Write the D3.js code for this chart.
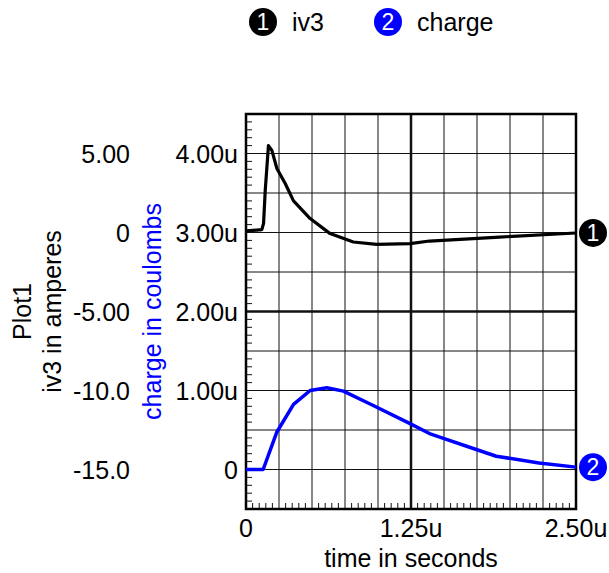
<!DOCTYPE html>
<html>
<head>
<meta charset="utf-8">
<script src="https://cdn.jsdelivr.net/npm/d3@7"></script>
<style>
  body { margin: 0; background: #fff; }
  svg { font-family: "Liberation Sans", Arial, sans-serif; }
</style>
</head>
<body>
<svg id="chart"></svg>
<script>
// time in microseconds
const timeIv3 = [0, 0.12, 0.133, 0.146, 0.17, 0.196, 0.234, 0.297, 0.36, 0.486, 0.637, 0.813, 0.99, 1.243, 1.39, 1.92, 2.5];
const iv3 = [0.1, 0.18, 0.58, 2.7, 5.5, 5.2, 4.05, 3.1, 2.0, 0.88, -0.07, -0.6, -0.75, -0.7, -0.54, -0.29, -0.03];

// charge in microcoulombs
const timeCharge = [0, 0.13, 0.234, 0.36, 0.486, 0.612, 0.738, 0.964, 1.243, 1.39, 1.468, 1.75, 1.896, 2.22, 2.5];
const charge = [0, 0, 0.475, 0.824, 1.0, 1.034, 0.992, 0.81, 0.58, 0.455, 0.41, 0.25, 0.168, 0.083, 0.03];

const xTicks = [0, 1.25, 2.5];
const xTickLabels = ["0", "1.25u", "2.50u"];
const iv3Ticks = [5, 0, -5, -10, -15];
const iv3TickLabels = ["5.00", "0", "-5.00", "-10.0", "-15.0"];
const chargeTicks = [4, 3, 2, 1, 0];
const chargeTickLabels = ["4.00u", "3.00u", "2.00u", "1.00u", "0"];

const width = 609, height = 573;
const plot = { left: 246, right: 576, top: 114, bottom: 509 };

const svg = d3.select("#chart")
    .attr("width", width)
    .attr("height", height);

const x = d3.scaleLinear().domain([0, 2.5]).range([plot.left, plot.right]);
const yQ = d3.scaleLinear().domain([-0.5, 4.5]).range([plot.bottom, plot.top]);
const yI = d3.scaleLinear().domain([-17.5, 7.5]).range([plot.bottom, plot.top]);

const fs = 25;

// grid
const grid = svg.append("g");
const vLines = d3.range(1, 10).map(i => i * 0.25);
grid.selectAll(".vg").data(vLines).enter().append("line")
    .attr("x1", d => x(d)).attr("x2", d => x(d))
    .attr("y1", plot.top).attr("y2", plot.bottom)
    .attr("stroke", "#111")
    .attr("stroke-width", d => d === 1.25 ? 2.5 : 1);
const hLines = d3.range(0, 9).map(i => i * 0.5);
grid.selectAll(".hg").data(hLines).enter().append("line")
    .attr("x1", plot.left).attr("x2", plot.right)
    .attr("y1", d => yQ(d)).attr("y2", d => yQ(d))
    .attr("stroke", "#111")
    .attr("stroke-width", d => d === 2 ? 2.5 : 1);

// minor ticks
const xMinor = d3.range(0, 51).map(i => i * 0.05).filter((d, i) => i % 5 !== 0);
grid.selectAll(".xm").data(xMinor).enter().append("line")
    .attr("x1", d => x(d)).attr("x2", d => x(d))
    .attr("y1", plot.bottom).attr("y2", plot.bottom - 6)
    .attr("stroke", "#111").attr("stroke-width", 1);
const yMinor = d3.range(0, 51).map(i => -0.5 + i * 0.1).filter((d, i) => i % 5 !== 0);
grid.selectAll(".ym").data(yMinor).enter().append("line")
    .attr("x1", plot.left).attr("x2", plot.left + 6)
    .attr("y1", d => yQ(d)).attr("y2", d => yQ(d))
    .attr("stroke", "#111").attr("stroke-width", 1);

// frame
svg.append("rect")
    .attr("x", plot.left).attr("y", plot.top)
    .attr("width", plot.right - plot.left).attr("height", plot.bottom - plot.top)
    .attr("fill", "none").attr("stroke", "#000").attr("stroke-width", 2.5);

// curves
const lineI = d3.line().x((d, i) => x(timeIv3[i])).y(d => yI(d));
const lineQ = d3.line().x((d, i) => x(timeCharge[i])).y(d => yQ(d));

svg.append("path").attr("d", lineI(iv3))
    .attr("fill", "none").attr("stroke", "#000").attr("stroke-width", 3.2)
    .attr("stroke-linejoin", "round");
svg.append("path").attr("d", lineQ(charge))
    .attr("fill", "none").attr("stroke", "#0000ff").attr("stroke-width", 3.5)
    .attr("stroke-linejoin", "round");

// end markers
function marker(cx, cy, color, label) {
    svg.append("circle").attr("cx", cx).attr("cy", cy).attr("r", 14).attr("fill", color);
    svg.append("text").attr("x", cx).attr("y", cy + 8)
        .attr("text-anchor", "middle").attr("fill", "#fff")
        .attr("font-size", 23).text(label);
}
marker(x(2.5) + 17, yI(iv3[iv3.length - 1]), "#000", "1");
marker(x(2.5) + 17, yQ(charge[charge.length - 1]), "#0000ff", "2");

// tick labels
svg.selectAll(".xl").data(xTicks).enter().append("text")
    .attr("x", d => x(d)).attr("y", 537)
    .attr("text-anchor", "middle").attr("font-size", fs)
    .text((d, i) => xTickLabels[i]);
svg.selectAll(".il").data(iv3Ticks).enter().append("text")
    .attr("x", 130).attr("y", d => yI(d) + 9)
    .attr("text-anchor", "end").attr("font-size", fs)
    .text((d, i) => iv3TickLabels[i]);
svg.selectAll(".ql").data(chargeTicks).enter().append("text")
    .attr("x", 238).attr("y", d => yQ(d) + 9)
    .attr("text-anchor", "end").attr("font-size", fs)
    .text((d, i) => chargeTickLabels[i]);

// axis titles
svg.append("text").attr("x", (plot.left + plot.right) / 2).attr("y", 567)
    .attr("text-anchor", "middle").attr("font-size", fs).text("time in seconds");
const midY = (plot.top + plot.bottom) / 2;
svg.append("text").attr("transform", `translate(31,${midY}) rotate(-90)`)
    .attr("text-anchor", "middle").attr("font-size", fs).text("Plot1");
svg.append("text").attr("transform", `translate(61,${midY}) rotate(-90)`)
    .attr("text-anchor", "middle").attr("font-size", fs).text("iv3 in amperes");
svg.append("text").attr("transform", `translate(161,${midY}) rotate(-90)`)
    .attr("text-anchor", "middle").attr("font-size", fs).attr("fill", "#0000ff")
    .text("charge in coulombs");

// legend
const legend = [{ n: "1", name: "iv3", color: "#000", cx: 263 }, { n: "2", name: "charge", color: "#0000ff", cx: 388 }];
legend.forEach(l => {
    svg.append("circle").attr("cx", l.cx).attr("cy", 22).attr("r", 14).attr("fill", l.color);
    svg.append("text").attr("x", l.cx).attr("y", 30).attr("text-anchor", "middle")
        .attr("fill", "#fff").attr("font-size", 23).text(l.n);
    svg.append("text").attr("x", l.cx + 29).attr("y", 31).attr("font-size", fs).text(l.name);
});
</script>
</body>
</html>
